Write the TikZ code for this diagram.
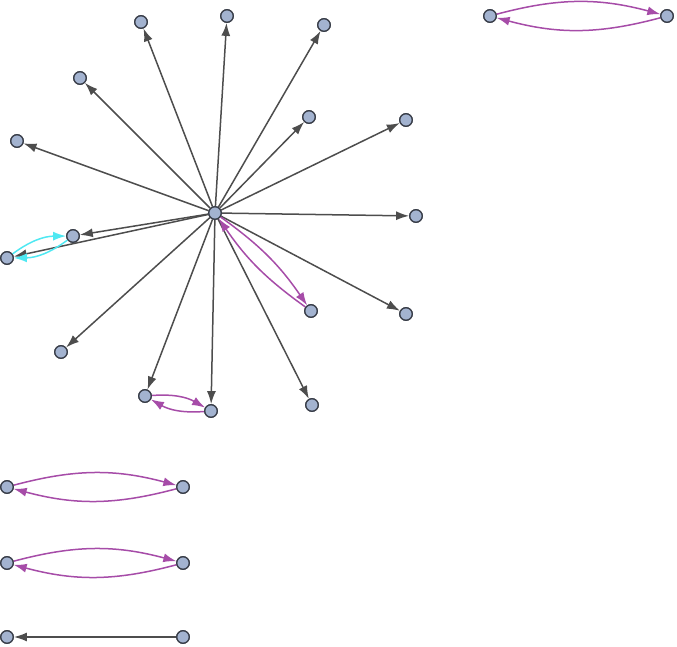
\documentclass[tikz,border=0pt]{standalone}
\usetikzlibrary{arrows.meta}
\definecolor{nfill}{HTML}{A3B3D0}
\definecolor{nline}{HTML}{3A3F4A}
\definecolor{egray}{HTML}{4D4D4D}
\definecolor{epurp}{HTML}{A64CA8}
\definecolor{ecyan}{HTML}{4FE8F2}
\tikzset{
  vtx/.style={circle,fill=nfill,draw=nline,line width=1.3pt,minimum size=12.5pt,inner sep=0pt},
  ge/.style={draw=egray,line width=1.5pt,-{Latex[length=13pt,width=9pt]}},
  pe/.style={draw=epurp,line width=1.5pt,-{Latex[length=13pt,width=9pt]}},
  ce/.style={draw=ecyan,line width=1.5pt,-{Latex[length=13pt,width=9pt]}},
}
\begin{document}
\begin{tikzpicture}[x=1pt,y=-1pt]
\useasboundingbox (0,0) rectangle (677,647);
\node[vtx] (c) at (215,213) {};
\node[vtx] (n1) at (141,22) {};
\node[vtx] (n2) at (227,16) {};
\node[vtx] (n3) at (324,25) {};
\node[vtx] (n4) at (80,78) {};
\node[vtx] (n5) at (309,117) {};
\node[vtx] (n6) at (406,120) {};
\node[vtx] (n7) at (17,141) {};
\node[vtx] (n8) at (416,216) {};
\node[vtx] (n9) at (73,236) {};
\node[vtx] (n10) at (7,258) {};
\node[vtx] (n11) at (311,311) {};
\node[vtx] (n12) at (406,314) {};
\node[vtx] (n13) at (61,352) {};
\node[vtx] (n14) at (145,396) {};
\node[vtx] (n15) at (211,411) {};
\node[vtx] (n16) at (312,405) {};
\node[vtx] (a1) at (490,16) {};
\node[vtx] (a2) at (667,16) {};
\node[vtx] (b1) at (7,487) {};
\node[vtx] (b2) at (183,487) {};
\node[vtx] (d1) at (7,563) {};
\node[vtx] (d2) at (183,563) {};
\node[vtx] (e1) at (7,637) {};
\node[vtx] (e2) at (183,637) {};
\foreach \t in {n1,n2,n3,n4,n5,n6,n7,n8,n9,n10,n12,n13,n14,n15,n16}
  \draw[ge] (c) -- (\t);
\draw[pe] (c) to[bend left=10] (n11);
\draw[pe] (n11) to[bend left=10] (c);
\draw[ce] (n10) to[bend left=18] (n9);
\draw[ce] (n9) to[bend left=18] (n10);
\draw[pe] (n14) to[bend left=17] (n15);
\draw[pe] (n15) to[bend left=17] (n14);
\draw[pe] (a1) to[bend left=15] (a2);
\draw[pe] (a2) to[bend left=15] (a1);
\draw[pe] (b1) to[bend left=15] (b2);
\draw[pe] (b2) to[bend left=15] (b1);
\draw[pe] (d1) to[bend left=15] (d2);
\draw[pe] (d2) to[bend left=15] (d1);
\draw[ge] (e2) -- (e1);
\foreach \v in {c,n1,n2,n3,n4,n5,n6,n7,n8,n9,n10,n11,n12,n13,n14,n15,n16,a1,a2,b1,b2,d1,d2,e1,e2}
  \node[vtx] at (\v) {};
\end{tikzpicture}
\end{document}
